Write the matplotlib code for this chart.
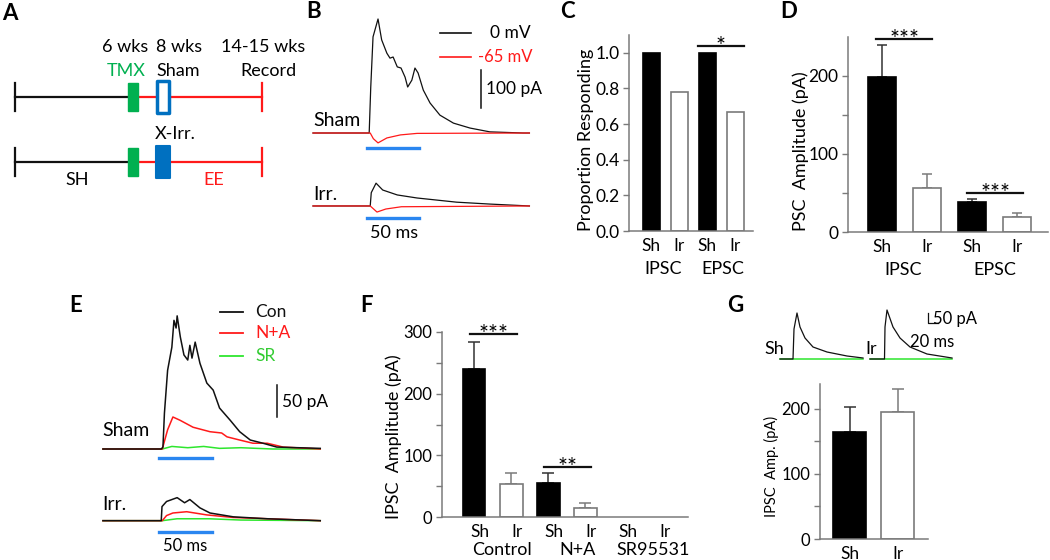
import matplotlib.pyplot as plt
from matplotlib.patches import Rectangle

plt.rcParams['font.family'] = ['Lato', 'DejaVu Sans']
plt.rcParams['font.size'] = 12.5

W, H = 1050, 560

# ---------------- data ----------------
# A: schematic timeline (weeks)
tl_start, tl_tmx, tl_surg, tl_rec = -1.9, 6.0, 8.0, 14.6

# B: evoked PSCs, time (ms) and current (pA)
b_sham_0_t = [0, 54, 55.5, 57.7, 62.5, 66, 71, 74, 77, 81, 84.6, 88.5, 91, 95, 98, 101, 106,
              112.5, 122, 135, 151, 170, 202, 208]
b_sham_0_i = [0, 0, 120, 253, 300, 245, 210, 197, 200, 174, 171, 147, 121, 139, 171, 158, 113,
              79, 47, 26, 13, 3, 0, 0]
b_sham_65_t = [0, 55, 58, 62.5, 71, 84, 100, 208]
b_sham_65_i = [0, 0, -15, -26, -13, -5, -1, 0]
b_irr_0_t = [0, 55, 56, 60.6, 67, 81, 100, 138, 170, 208]
b_irr_0_i = [0, 0, 35, 60, 42, 29, 21, 10, 5, 0]
b_irr_65_t = [0, 55, 61.5, 70, 85, 208]
b_irr_65_i = [0, 0, -16, -8, -2, 0]
b_stim = (52, 102)

# C: proportion responding
c_labels = ['Sh', 'Ir', 'Sh', 'Ir']
c_groups = ['IPSC', 'EPSC']
c_vals = [1.0, 0.778, 1.0, 0.667]

# D: PSC amplitude (mean, mean+sem)
d_mean = [199, 57, 38, 19]
d_top = [240, 74, 42, 24]

# E: IPSCs with drugs
e_sham_con_t = [0, 55, 56.6, 58, 61, 65, 67, 69, 70, 73, 76.4, 80, 82, 84, 87, 91.5, 98, 104,
                110, 120, 129, 139, 151, 164, 205]
e_sham_con_i = [0, 0, 3, 56, 123, 159, 201, 189, 208, 175, 147, 139, 162, 142, 167, 134, 103,
                92, 64, 45, 27, 14, 9, 3, 1]
e_sham_na_t = [0, 56, 61, 66, 72.6, 85, 101, 112, 117, 129, 141.5, 155, 170, 205]
e_sham_na_i = [0, 0, 30, 50, 45, 34, 27, 25, 19, 14, 9, 9, 3, 0]
e_sham_sr_t = [0, 56, 65, 80, 95, 110, 130, 160, 205]
e_sham_sr_i = [0, 0, 4, 2, 4, 1, 2, 0, 0]
e_irr_con_t = [0, 55, 55.7, 60, 70, 77, 82, 91.5, 101, 123, 155, 205]
e_irr_con_i = [0, 0, 22, 30, 36, 28, 33, 20, 12, 6, 3, 0]
e_irr_na_t = [0, 56, 60, 66, 79, 98, 123, 205]
e_irr_na_i = [0, 0, 8, 12, 14, 9, 5, 0]
e_irr_sr_t = [0, 56, 70, 100, 130, 205]
e_irr_sr_i = [0, 0, 3, 3, 1, 0]
e_stim = (53, 103)

# F: IPSC amplitude by condition
f_labels = ['Sh', 'Ir', 'Sh', 'Ir', 'Sh', 'Ir']
f_groups = ['Control', 'N+A', 'SR95531']
f_mean = [240, 54, 55, 14.6, 0, 0]
f_top = [284, 71, 71, 22, None, None]

# G: example traces and amplitudes
g_sh_t = [0, 26, 28, 34, 40, 50, 66, 94, 134, 166]
g_sh_i = [0, 0, 150, 230, 160, 105, 60, 35, 15, 5]
g_ir_t = [0, 29, 30, 34, 46, 60, 80, 114, 164]
g_ir_i = [0, 0, 160, 245, 160, 105, 60, 25, 5]
g_labels = ['Sh', 'Ir']
g_mean = [164, 195.5]
g_top = [203, 230.5]

BLACK = '#111111'
RED = '#ff1a1a'
GREEN = '#2ee62e'
DKGREEN = '#00b050'
BLUE = '#0070c0'
STIM = '#2a86f0'
SPINE = '#7a7a7a'

fig = plt.figure(figsize=(10.5, 5.6), dpi=100)


def px_axes(x0, y0, x1, y1):
    return fig.add_axes([x0 / W, 1 - y1 / H, (x1 - x0) / W, (y1 - y0) / H])


def ftext(x, y, s, **kw):
    kw.setdefault('ha', 'center')
    kw.setdefault('va', 'center')
    fig.text(x / W, 1 - y / H, s, **kw)


# panel letters
for lx, ly, lt in [(10, 13, 'A'), (314, 12, 'B'), (567, 12, 'C'), (789, 12, 'D'),
                   (76, 306, 'E'), (366, 306, 'F'), (735, 306, 'G')]:
    ftext(lx, ly, lt, fontsize=16, fontweight='bold')

# ---------------- A ----------------
ax = px_axes(0, 30, 300, 200)
ax.axis('off')
ax.set_xlim(-2.87, 17.13)
ax.set_ylim(1.585, -1.03)
for row in (0, 1):
    ax.plot([tl_start, tl_tmx], [row, row], color=BLACK, lw=1.6)
    ax.plot([tl_tmx, tl_rec], [row, row], color=RED, lw=1.6)
    ax.plot([tl_start, tl_start], [row - 0.22, row + 0.22], color=BLACK, lw=1.6)
    ax.plot([tl_rec, tl_rec], [row - 0.22, row + 0.22], color=RED, lw=1.6)
    ax.add_patch(Rectangle((tl_tmx - 0.33, row - 0.215), 0.66, 0.43, color=DKGREEN, zorder=3))
ax.add_patch(Rectangle((tl_surg - 0.4, -0.24), 0.8, 0.48, facecolor='white', edgecolor=BLUE,
                       lw=2.5, joinstyle='round', zorder=3))
ax.add_patch(Rectangle((tl_surg - 0.45, 1 - 0.25), 0.9, 0.5, facecolor=BLUE, edgecolor=BLUE,
                       lw=1.5, joinstyle='round', zorder=3))
ftext(125, 47, '6 wks', fontsize=13)
ftext(179, 47, '8 wks', fontsize=13)
ftext(263, 47, '14-15 wks', fontsize=13)
ftext(126, 71, 'TMX', fontsize=13, color=DKGREEN)
ftext(178, 71, 'Sham', fontsize=13)
ftext(268, 71, 'Record', fontsize=13)
ftext(175, 134, 'X-Irr.', fontsize=13)
ftext(77, 180, 'SH', fontsize=13)
ftext(214, 180, 'EE', fontsize=13, color=RED)

# ---------------- B ----------------
B_OFF = -192
ax = px_axes(300, 0, 545, 245)
ax.axis('off')
ax.set_xlim(-12.5, 223)
ax.set_ylim(-294.7, 350)
ax.plot(b_sham_0_t, b_sham_0_i, color=BLACK, lw=0.9)
ax.plot(b_sham_65_t, b_sham_65_i, color=RED, lw=0.9)
ax.plot(b_irr_0_t, [v + B_OFF for v in b_irr_0_i], color=BLACK, lw=0.9)
ax.plot(b_irr_65_t, [v + B_OFF for v in b_irr_65_i], color=RED, lw=0.9)
ax.plot(b_stim, [-40, -40], color=STIM, lw=2.4)
ax.plot(b_stim, [-224, -224], color=STIM, lw=2.4)
ax.plot([161.5, 161.5], [66, 166], color=BLACK, lw=1.1)
ftext(486, 89, '100 pA', ha='left', fontsize=12.5)
ax.plot([0.57, 0.70], [0.865, 0.865], color=BLACK, lw=1.2, transform=ax.transAxes)
ax.plot([0.57, 0.70], [0.767, 0.767], color=RED, lw=1.2, transform=ax.transAxes)
ftext(531, 33, '0 mV', ha='right', fontsize=12.5)
ftext(533, 57, '-65 mV', ha='right', fontsize=12, color=RED)
ftext(313, 121, 'Sham', ha='left', fontsize=14)
ftext(313, 194, 'Irr.', ha='left', fontsize=14)
ftext(394, 233, '50 ms', fontsize=13)


def style_bar_axes(ax):
    for s in ['top', 'right']:
        ax.spines[s].set_visible(False)
    for s in ['left', 'bottom']:
        ax.spines[s].set_color(SPINE)
        ax.spines[s].set_linewidth(1.1)
    ax.tick_params(axis='y', direction='out', length=4, width=1, color=SPINE, pad=3,
                   labelsize=12.5)
    ax.tick_params(axis='x', length=0, pad=5, labelsize=12.5)


def draw_bars(ax, means, tops, width, cap=4):
    for i, m in enumerate(means):
        dark = i % 2 == 0
        if m > 0:
            ax.bar(i, m, width, color='black' if dark else 'white',
                   edgecolor='black' if dark else SPINE, linewidth=1.2, zorder=2)
        if tops is not None and tops[i] is not None:
            ax.errorbar(i, m, yerr=[[0], [tops[i] - m]], fmt='none',
                        ecolor='#333333' if dark else SPINE, elinewidth=1.1,
                        capsize=cap, capthick=1.1, zorder=1)


def sig(ax, x0, x1, y, stars):
    ax.plot([x0, x1], [y, y], color=BLACK, lw=1.6, clip_on=False)
    ax.annotate(stars, xy=((x0 + x1) / 2, y), xytext=(0, -5), textcoords='offset points',
                ha='center', va='baseline', fontsize=17)


def groups(ax, centers, names, off=27):
    for c, n in zip(centers, names):
        ax.annotate(n, xy=(c, 0), xycoords=('data', 'axes fraction'), xytext=(0, -off),
                    textcoords='offset points', ha='center', va='center', fontsize=13)


# ---------------- C ----------------
ax = px_axes(629, 35, 753, 231)
style_bar_axes(ax)
ax.set_xlim(-0.8, 3.625)
ax.set_ylim(0, 1.1)
draw_bars(ax, c_vals, None, 0.607)
ax.set_yticks([0, 0.2, 0.4, 0.6, 0.8, 1.0], ['0.0', '0.2', '0.4', '0.6', '0.8', '1.0'])
ax.set_xticks(range(4), c_labels)
sig(ax, 1.66, 3.3, 1.04, '*')
groups(ax, [0.4, 2.55], c_groups)
ftext(586, 140, 'Proportion Responding', rotation=90, fontsize=13)

# ---------------- D ----------------
ax = px_axes(848, 37, 1048, 232)
style_bar_axes(ax)
ax.set_xlim(-0.756, 3.69)
ax.set_ylim(0, 250)
draw_bars(ax, d_mean, d_top, 0.62, cap=3.3)
ax.set_yticks([0, 50, 100, 150, 200], ['0', '', '100', '', '200'])
ax.set_xticks(range(4), c_labels)
sig(ax, -0.13, 1.11, 247, '***')
sig(ax, 1.9, 3.14, 50, '***')
groups(ax, [0.47, 2.5], c_groups)
ftext(801, 151, 'PSC  Amplitude (pA)', rotation=90, fontsize=13)

# ---------------- E ----------------
E_OFF = -112
ax = px_axes(95, 300, 330, 545)
ax.axis('off')
ax.set_xlim(-7.5, 214.2)
ax.set_ylim(-150, 232.8)
ax.plot(e_sham_sr_t, e_sham_sr_i, color=GREEN, lw=1.1)
ax.plot(e_sham_na_t, e_sham_na_i, color=RED, lw=1.1)
ax.plot(e_sham_con_t, e_sham_con_i, color=BLACK, lw=1.1)
ax.plot(e_irr_sr_t, [v + E_OFF for v in e_irr_sr_i], color=GREEN, lw=1.1)
ax.plot(e_irr_na_t, [v + E_OFF for v in e_irr_na_i], color=RED, lw=1.1)
ax.plot(e_irr_con_t, [v + E_OFF for v in e_irr_con_i], color=BLACK, lw=1.1)
ax.plot(e_stim, [-14, -14], color=STIM, lw=2.4)
ax.plot(e_stim, [-130, -130], color=STIM, lw=2.4)
ax.plot([164.2, 164.2], [50, 100], color=BLACK, lw=1.1)
ftext(282, 402, '50 pA', ha='left', fontsize=12.5)
for yy, col, lab, tc in [(312, BLACK, 'Con', BLACK), (333, RED, 'N+A', RED),
                         (356, GREEN, 'SR', '#33cc33')]:
    fy = 1 - (yy - 300) / 245
    ax.plot([(220 - 95) / 235, (243 - 95) / 235], [fy, fy], color=col, lw=1.3,
            transform=ax.transAxes)
    ftext(255, yy, lab, ha='left', fontsize=12.5, color=tc)
ftext(102, 430, 'Sham', ha='left', fontsize=14)
ftext(102, 505, 'Irr.', ha='left', fontsize=14)
ftext(185, 546, '50 ms', fontsize=12)

# ---------------- F ----------------
ax = px_axes(442, 332, 688, 517)
style_bar_axes(ax)
ax.tick_params(axis='y', labelsize=12)
ax.set_xlim(-0.865, 5.78)
ax.set_ylim(0, 300)
draw_bars(ax, f_mean, f_top, 0.62, cap=4.2)
ax.set_yticks([0, 50, 100, 150, 200, 250, 300], ['0', '', '100', '', '200', '', '300'])
ax.set_xticks([i + 0.17 for i in range(6)], f_labels)
sig(ax, -0.1, 1.16, 297, '***')
sig(ax, 1.89, 3.16, 81, '**')
groups(ax, [0.75, 2.8, 4.83], f_groups, off=24)
ftext(394, 437, 'IPSC  Amplitude (pA)', rotation=90, fontsize=13)

# ---------------- G ----------------
ax = px_axes(775, 300, 865, 362)
ax.axis('off')
ax.set_xlim(-10, 170)
ax.set_ylim(-15, 295)
ax.plot([0, 166], [-2, -2], color=GREEN, lw=1.1)
ax.plot(g_sh_t, g_sh_i, color=BLACK, lw=0.9)
ax = px_axes(865, 300, 955, 362)
ax.axis('off')
ax.set_xlim(-10, 170)
ax.set_ylim(-15, 295)
ax.plot([0, 164], [-2, -2], color=GREEN, lw=1.1)
ax.plot(g_ir_t, g_ir_i, color=BLACK, lw=0.9)
ax.plot([116, 116, 136], [230, 180, 180], color=BLACK, lw=0.9)
ftext(933, 319, '50 pA', ha='left', fontsize=12)
ftext(932, 342, '20 ms', fontsize=12)
ftext(774, 349, 'Sh', fontsize=13)
ftext(871, 349, 'Ir', fontsize=13)

ax = px_axes(820, 384, 928, 539)
style_bar_axes(ax)
ax.tick_params(axis='y', labelsize=12)
ax.set_xlim(-0.615, 1.635)
ax.set_ylim(0, 238)
draw_bars(ax, g_mean, g_top, 0.68, cap=4.6)
ax.set_yticks([0, 50, 100, 150, 200], ['0', '', '100', '', '200'])
ax.set_xticks(range(2), g_labels)
ftext(771, 466, 'IPSC  Amp. (pA)', rotation=90, fontsize=10.5)

fig.savefig('out.png', dpi=100)
